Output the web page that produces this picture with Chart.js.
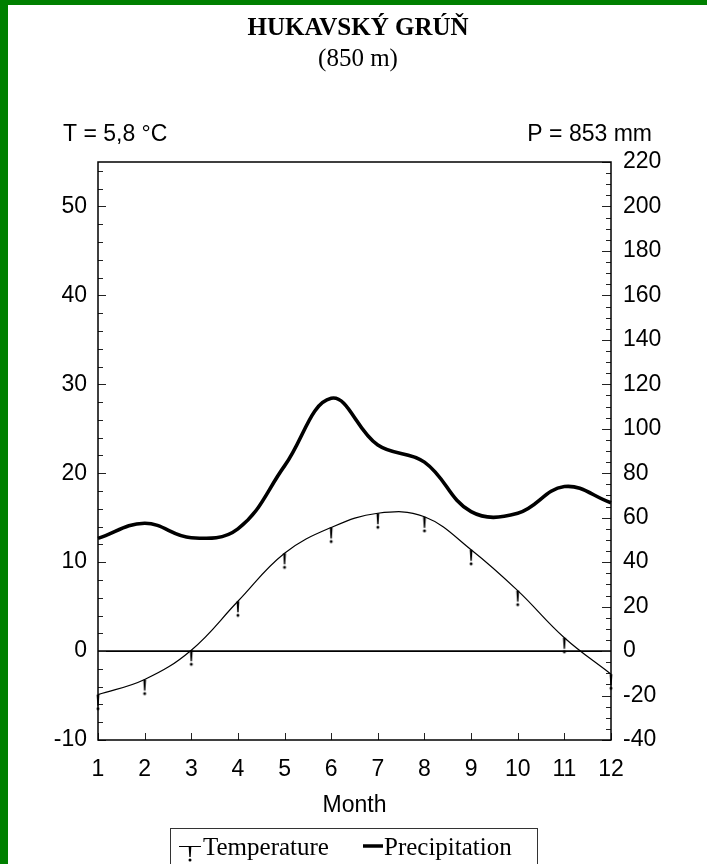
<!DOCTYPE html>
<html><head><meta charset="utf-8">
<script src="https://cdn.jsdelivr.net/npm/chart.js@4.4.0/dist/chart.umd.min.js"></script>
<style>
html,body{margin:0;padding:0;background:#fff;}
#wrap{position:relative;width:707px;height:864px;background:#fff;overflow:hidden;}
#gtop{position:absolute;left:0;top:0;width:707px;height:5px;background:#008000;}
#gleft{position:absolute;left:0;top:0;width:8px;height:864px;background:#008000;}
#c{position:absolute;left:8px;top:5px;}
</style></head><body>
<div id="wrap"><div id="gtop"></div><div id="gleft"></div><canvas id="c" width="699" height="859"></canvas></div>
<script>
const months = ['1','2','3','4','5','6','7','8','9','10','11','12'];
const temperature = [-4.9, -3.2, 0.1, 5.6, 11.0, 13.9, 15.5, 15.1, 11.4, 6.8, 1.5, -2.6];
const precipitation = [50.7, 57.5, 51.0, 55.0, 83.3, 113.7, 92.7, 85.0, 62.7, 62.0, 74.0, 66.7];
const stationName = 'HUKAVSKÝ GRÚŇ';
const altitude = '(850 m)';
const meanT = 'T = 5,8 °C';
const sumP = 'P = 853 mm';
const xTitle = 'Month';

const SANS = '"Liberation Sans", Arial, sans-serif';
const SERIF = '"Liberation Serif", "Times New Roman", serif';

function makeMark() {
  const c = document.createElement('canvas');
  c.width = 6; c.height = 34;
  const g = c.getContext('2d');
  g.fillStyle = '#000';
  g.beginPath(); g.moveTo(1.6, 17); g.lineTo(4.4, 17); g.lineTo(3.7, 28); g.lineTo(2.3, 28); g.closePath(); g.fill();
  g.beginPath(); g.arc(3, 31, 1.5, 0, Math.PI * 2); g.fill();
  return c;
}
const mark = makeMark();

const decor = {
  id: 'decor',
  beforeDatasetsDraw(chart) {
    const {ctx, chartArea: a, scales} = chart;
    ctx.save();
    const y0 = scales.y.getPixelForValue(0);
    ctx.strokeStyle = '#000'; ctx.lineWidth = 1.6;
    ctx.beginPath(); ctx.moveTo(a.left, y0); ctx.lineTo(a.right, y0); ctx.stroke();
    ctx.strokeStyle = '#222'; ctx.lineWidth = 1;
    scales.y.ticks.forEach(t => {
      const y = Math.round(scales.y.getPixelForValue(t.value)) + 0.5;
      const L = (Math.abs(t.value % 10) < 1e-6) ? 8 : 5;
      ctx.beginPath(); ctx.moveTo(a.left, y); ctx.lineTo(a.left + L, y); ctx.stroke();
    });
    scales.y1.ticks.forEach(t => {
      const y = Math.round(scales.y1.getPixelForValue(t.value)) + 0.5;
      const L = (Math.abs(t.value % 20) < 1e-6) ? 9 : 5;
      ctx.beginPath(); ctx.moveTo(a.right, y); ctx.lineTo(a.right - L, y); ctx.stroke();
    });
    scales.x.ticks.forEach((t, i) => {
      const x = Math.round(scales.x.getPixelForTick(i)) + 0.5;
      ctx.beginPath(); ctx.moveTo(x, a.bottom); ctx.lineTo(x, a.bottom - 7); ctx.stroke();
    });
    ctx.strokeStyle = '#000'; ctx.lineWidth = 1.5;
    ctx.strokeRect(a.left, a.top, a.right - a.left, a.bottom - a.top);
    ctx.restore();
  },
  afterDraw(chart) {
    const {ctx} = chart;
    ctx.save();
    ctx.fillStyle = '#000';
    ctx.textBaseline = 'alphabetic';
    ctx.textAlign = 'center';
    ctx.font = 'bold 25px ' + SERIF;
    ctx.fillText(stationName, 350, 30);
    ctx.font = '25px ' + SERIF;
    ctx.fillText(altitude, 350, 61);
    ctx.font = '23px ' + SANS;
    ctx.textAlign = 'left';
    ctx.fillText(meanT, 55, 136);
    ctx.textAlign = 'right';
    ctx.fillText(sumP, 644, 136);
    // legend
    ctx.strokeStyle = '#333'; ctx.lineWidth = 1;
    ctx.strokeRect(162.5, 823.5, 367, 60);
    const ds = chart.data.datasets;
    ctx.strokeStyle = '#000'; ctx.lineWidth = 1;
    ctx.beginPath(); ctx.moveTo(171, 841.5); ctx.lineTo(193, 841.5); ctx.stroke();
    ctx.drawImage(mark, 182 - 3, 841 - 17);
    ctx.font = '25px ' + SERIF;
    ctx.textAlign = 'left';
    ctx.fillText(ds[0].label, 195, 850);
    ctx.lineWidth = 3.5;
    ctx.beginPath(); ctx.moveTo(355, 841); ctx.lineTo(375, 841); ctx.stroke();
    ctx.fillText(ds[1].label, 376, 850);
    ctx.restore();
  }
};

new Chart(document.getElementById('c'), {
  type: 'line',
  data: {
    labels: months,
    datasets: [
      { label: 'Temperature', data: temperature, yAxisID: 'y', borderColor: '#000', borderWidth: 1.2,
        tension: 0.4, pointStyle: mark, pointRadius: 3, fill: false },
      { label: 'Precipitation', data: precipitation, yAxisID: 'y1', borderColor: '#000', borderWidth: 3.6,
        tension: 0.4, pointRadius: 0, fill: false }
    ]
  },
  options: {
    responsive: false,
    animation: false,
    devicePixelRatio: 1,
    layout: { padding: { top: 157, left: 0, right: 0, bottom: 45 } },
    plugins: { legend: { display: false }, tooltip: { enabled: false }, title: { display: false } },
    scales: {
      x: {
        type: 'category', offset: false,
        grid: { display: false, drawTicks: false }, border: { display: false },
        ticks: { color: '#000', font: { family: SANS, size: 23 }, padding: 16, autoSkip: false, maxRotation: 0 },
        title: { display: true, text: xTitle, color: '#000', font: { family: SANS, size: 23 }, padding: 0 },
        afterFit: s => { s.height = 79; }
      },
      y: {
        position: 'left', min: -10, max: 55,
        grid: { display: false, drawTicks: false }, border: { display: false },
        ticks: { stepSize: 2, includeBounds: false, color: '#000', font: { family: SANS, size: 23 }, padding: 11, autoSkip: false,
          callback: v => (Math.abs(v % 10) < 1e-6 ? String(v) : '') },
        afterFit: s => { s.width = 90; }
      },
      y1: {
        position: 'right', min: -40, max: 220,
        grid: { display: false, drawTicks: false }, border: { display: false },
        ticks: { stepSize: 5, includeBounds: false, color: '#000', font: { family: SANS, size: 23 }, padding: 12, autoSkip: false,
          callback: v => (Math.abs(v % 20) < 1e-6 ? String(v) : '') },
        afterFit: s => { s.width = 96; }
      }
    }
  },
  plugins: [decor]
});
</script>
</body></html>
